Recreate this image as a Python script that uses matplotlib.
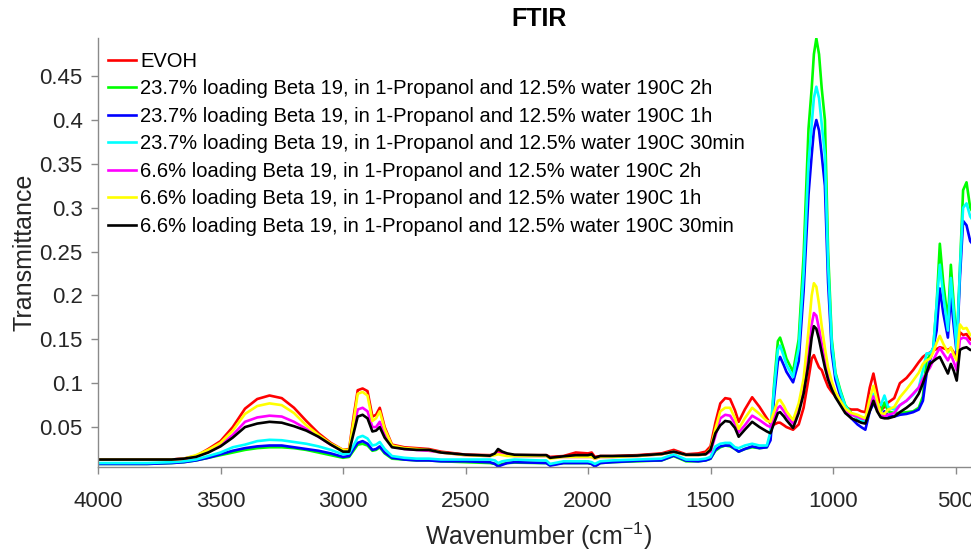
import matplotlib
matplotlib.use("Agg")
import matplotlib.pyplot as plt
from matplotlib.ticker import FuncFormatter

plt.rcParams["font.family"] = ["Liberation Sans", "DejaVu Sans"]
plt.rcParams["mathtext.default"] = "regular"

# Wavenumber grid (cm^-1), descending
wavenumber = [
    4000, 3800, 3700, 3650, 3600, 3550, 3500, 3450, 3400, 3350, 3300, 3250, 3200, 3150, 3100, 3050, 3000,
    2975, 2955, 2940, 2920, 2900, 2880, 2865, 2850, 2830, 2800, 2750, 2700, 2650, 2600, 2500,
    2400, 2380, 2367, 2350, 2330, 2300, 2200, 2170, 2155, 2100, 2050, 2000, 1985, 1972, 1950, 1900,
    1800, 1700, 1650, 1600, 1550, 1520,
    1500, 1480, 1460, 1440, 1420, 1400, 1385, 1360, 1330, 1300, 1270, 1255, 1240, 1225, 1216, 1200, 1190, 1163,
    1140, 1120, 1100, 1087, 1078, 1068, 1057, 1046, 1033, 1020, 1005, 990, 970, 950, 925, 900, 885, 868,
    850, 835, 820, 805, 790, 775, 750, 727, 700, 673, 650, 633, 618, 604, 591, 577, 564, 550, 531, 519,
    507, 495, 482, 469, 455, 440, 420, 400,
]

evoh = [
    .013, .013, .013, .014, .017, .025, .034, .050, .071, .082, .086, .083, .072, .057, .043, .032, .024,
    .025, .065, .092, .094, .091, .062, .064, .072, .050, .030, .027, .026, .025, .022, .0186,
    .018, .019, .022, .021, .019, .018, .018, .018, .016, .017, .021, .020, .021, .016, .017, .017,
    .018, .020, .024, .019, .020, .022,
    .028, .055, .077, .083, .082, .069, .056, .070, .084, .073, .060, .054, .053, .055, .055, .052, .050, .047,
    .053, .072, .105, .128, .132, .125, .118, .115, .105, .096, .090, .085, .078, .072, .070, .070, .068, .067,
    .095, .111, .090, .069, .073, .078, .083, .100, .106, .115, .124, .130, .133, .135, .137, .139, .141,
    .140, .138, .140, .135, .130, .158, .155, .156, .150, .148, .147,
]

b237_2h = [
    .008, .008, .009, .010, .012, .015, .018, .021, .024, .026, .027, .027, .026, .024, .021, .018, .015,
    .016, .024, .030, .031, .029, .023, .024, .027, .020, .014, .013, .012, .012, .011, .010,
    .009, .008, .006, .008, .009, .0095, .009, .009, .007, .009, .009, .009, .008, .006, .009, .010,
    .011, .012, .017, .011, .011, .012,
    .014, .023, .027, .029, .028, .025, .022, .025, .027, .026, .027, .040, .100, .148, .152, .138, .128, .113,
    .150, .245, .390, .436, .475, .493, .475, .436, .400, .250, .150, .112, .092, .075, .066, .060, .057, .058,
    .072, .084, .075, .068, .078, .068, .066, .066, .067, .068, .072, .085, .126, .132, .140, .190, .259,
    .215, .171, .235, .190, .141, .230, .320, .329, .300, .290, .285,
]

b237_1h = [
    .008, .008, .009, .010, .012, .015, .019, .023, .026, .028, .029, .029, .027, .025, .023, .020, .016,
    .017, .026, .032, .034, .031, .024, .025, .028, .021, .015, .013, .012, .012, .011, .011,
    .0099, .008, .005, .007, .009, .010, .0093, .009, .006, .009, .009, .009, .008, .005, .009, .010,
    .0115, .012, .0175, .0118, .011, .012,
    .014, .024, .028, .029, .029, .025, .022, .025, .028, .026, .027, .035, .085, .125, .130, .120, .113, .101,
    .125, .205, .315, .360, .388, .400, .388, .360, .325, .215, .135, .104, .085, .069, .060, .053, .050, .047,
    .068, .077, .070, .062, .068, .063, .062, .064, .065, .067, .070, .080, .111, .126, .140, .160, .208,
    .180, .152, .200, .165, .134, .220, .285, .280, .262, .255, .250,
]

b237_30 = [
    .009, .009, .010, .011, .013, .017, .021, .027, .030, .034, .0355, .035, .033, .031, .028, .024, .019,
    .020, .030, .038, .040, .037, .029, .030, .033, .025, .017, .015, .014, .014, .013, .013,
    .013, .012, .009, .011, .012, .013, .012, .012, .008, .011, .011, .011, .010, .008, .011, .012,
    .013, .014, .019, .013, .013, .014,
    .016, .028, .031, .032, .032, .027, .026, .029, .031, .029, .029, .045, .095, .138, .143, .130, .121, .107,
    .140, .225, .350, .395, .425, .438, .425, .395, .360, .235, .145, .110, .090, .074, .065, .061, .058, .056,
    .075, .088, .076, .075, .086, .073, .070, .075, .080, .087, .095, .115, .134, .134, .140, .190, .235,
    .200, .160, .220, .180, .138, .230, .300, .305, .290, .282, .278,
]

b66_2h = [
    .013, .013, .013, .014, .017, .022, .030, .041, .056, .061, .063, .062, .056, .048, .039, .030, .023,
    .023, .050, .070, .072, .068, .050, .050, .056, .042, .028, .025, .024, .023, .021, .018,
    .017, .019, .020, .019, .018, .017, .017, .017, .015, .016, .016, .016, .016, .014, .016, .016,
    .017, .019, .022, .018, .018, .019,
    .022, .040, .060, .064, .063, .054, .044, .052, .063, .058, .052, .050, .062, .072, .074, .068, .063, .054,
    .070, .092, .132, .167, .180, .177, .162, .145, .125, .108, .096, .086, .077, .069, .064, .062, .060, .059,
    .072, .085, .072, .064, .062, .064, .066, .075, .080, .088, .095, .105, .112, .118, .126, .134, .140,
    .134, .126, .133, .124, .115, .150, .152, .151, .145, .143, .142,
]

b66_1h = [
    .013, .013, .013, .014, .018, .024, .032, .046, .065, .074, .077, .075, .066, .052, .041, .031, .024,
    .024, .060, .088, .090, .086, .057, .060, .068, .048, .029, .026, .025, .024, .021, .018,
    .017, .018, .019, .018, .017, .017, .017, .017, .014, .016, .016, .016, .016, .014, .016, .016,
    .017, .019, .022, .018, .018, .019,
    .025, .048, .068, .072, .072, .060, .048, .060, .072, .065, .057, .056, .068, .080, .081, .074, .068, .058,
    .077, .105, .160, .200, .214, .210, .190, .165, .140, .118, .102, .090, .080, .071, .066, .064, .062, .060,
    .082, .097, .080, .066, .065, .070, .073, .084, .093, .103, .112, .122, .126, .128, .135, .146, .154,
    .145, .135, .141, .132, .126, .167, .162, .163, .155, .153, .152,
]

b66_30 = [
    .013, .013, .013, .014, .016, .021, .028, .038, .050, .054, .056, .055, .051, .046, .039, .030, .022,
    .022, .045, .062, .064, .060, .045, .046, .050, .038, .027, .025, .024, .024, .021, .0186,
    .0174, .020, .025, .022, .020, .0185, .018, .018, .015, .0167, .018, .018, .019, .015, .017, .017,
    .0175, .0193, .022, .0185, .0185, .019,
    .024, .043, .052, .057, .056, .049, .039, .047, .056, .050, .045, .043, .055, .066, .067, .062, .058, .049,
    .066, .088, .122, .152, .165, .162, .150, .135, .118, .104, .093, .084, .075, .066, .060, .057, .055, .054,
    .068, .080, .068, .061, .060, .060, .062, .067, .072, .078, .088, .100, .112, .122, .125, .128, .130,
    .122, .111, .122, .114, .103, .138, .140, .141, .138, .137, .136,
]

labels = [
    "EVOH",
    "23.7% loading Beta 19, in 1-Propanol and 12.5% water 190C 2h",
    "23.7% loading Beta 19, in 1-Propanol and 12.5% water 190C 1h",
    "23.7% loading Beta 19, in 1-Propanol and 12.5% water 190C 30min",
    "6.6% loading Beta 19, in 1-Propanol and 12.5% water 190C 2h",
    "6.6% loading Beta 19, in 1-Propanol and 12.5% water 190C 1h",
    "6.6% loading Beta 19, in 1-Propanol and 12.5% water 190C 30min",
]
series = [evoh, b237_2h, b237_1h, b237_30, b66_2h, b66_1h, b66_30]
colors = ["#ff0000", "#00ff00", "#0000ff", "#00ffff", "#ff00ff", "#ffff00", "#000000"]

xticks = [4000, 3500, 3000, 2500, 2000, 1500, 1000, 500]
yticks = [0.05, 0.1, 0.15, 0.2, 0.25, 0.3, 0.35, 0.4, 0.45]

W, H = 971, 552
fig = plt.figure(figsize=(W / 100, H / 100), dpi=100)
ax = fig.add_axes([98 / W, 85 / H, 882 / W, 429 / H])

for y, c, lab in zip(series, colors, labels):
    ax.plot(wavenumber, y, color=c, lw=1.9, label=lab, solid_joinstyle="round")

ax.set_xlim(4000, 400)
ax.set_ylim(0.0045, 0.4935)
ax.set_xticks(xticks)
ax.set_yticks(yticks)
ax.yaxis.set_major_formatter(FuncFormatter(lambda v, p: f"{v:g}"))

axis_grey = "#8a8a8a"
text_grey = "#262626"
for side in ("top", "right"):
    ax.spines[side].set_visible(False)
for side in ("left", "bottom"):
    ax.spines[side].set_color(axis_grey)
    ax.spines[side].set_linewidth(1.0)
ax.tick_params(axis="both", direction="out", length=5, width=1.0, color=axis_grey,
               labelcolor=text_grey, labelsize=16)
ax.tick_params(axis="x", pad=12)
ax.tick_params(axis="y", pad=6)

ax.set_title("FTIR", fontsize=18, fontweight="bold", color="#000000", pad=9)
ax.set_xlabel("Wavenumber (cm$^{-1}$)", fontsize=18, color=text_grey)
ax.set_ylabel("Transmittance", fontsize=18, color=text_grey)
ax.xaxis.set_label_coords(0.5, -0.126)
ax.yaxis.set_label_coords(-0.070, 0.5)

leg = fig.legend(loc="upper left", bbox_to_anchor=(108 / W, 1 - 52 / H), frameon=False,
                 fontsize=14.5, handlelength=1.39, handletextpad=0.2, labelspacing=0.42,
                 borderpad=0, borderaxespad=0)
for t in leg.get_texts():
    t.set_color("#000000")

fig.savefig("out.png", dpi=100)
